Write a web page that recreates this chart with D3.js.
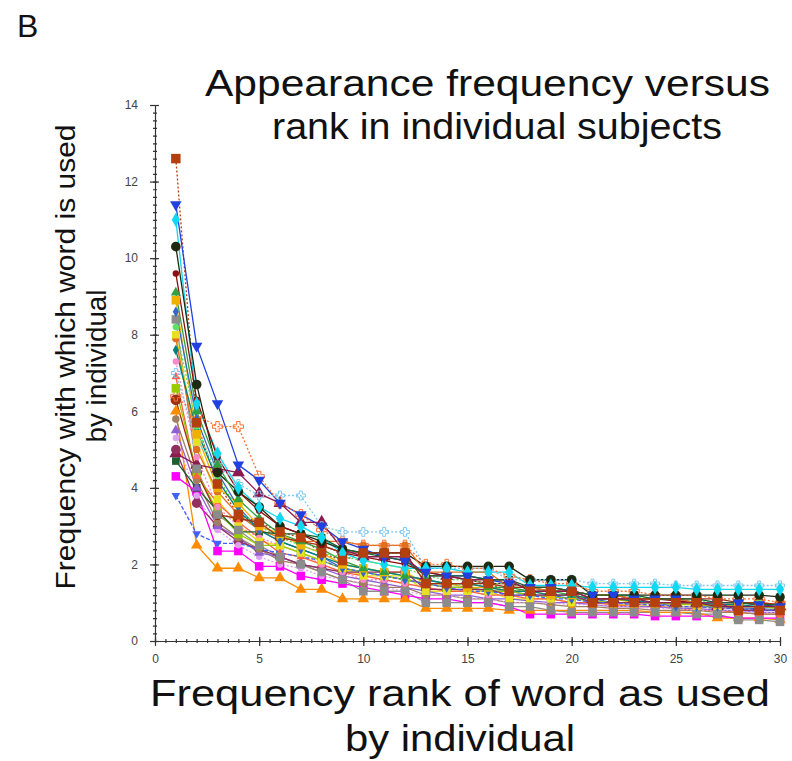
<!DOCTYPE html>
<html>
<head>
	<meta charset="utf-8">
	<title>Appearance frequency versus rank</title>
	<script src="https://d3js.org/d3.v7.min.js"></script>
	<style>
		body{ margin: 0; background: #fff; }
		text{ font-family: "Liberation Sans", Arial, sans-serif; fill: #111; }
		.tick text{ fill: #444; font-size: 12px; }
		.domain, .tick line{ stroke: #333; stroke-width: 1.2; }
		path.series{ fill: none; stroke-width: 1.3; }
	</style>
</head>
<body>
	<script>
		var width = 792, height = 761;

		// frequency ranks 1..30
		var ranks = d3.range(1, 31);
		var xTicks = [0, 5, 10, 15, 20, 25, 30];
		var yTicks = [0, 2, 4, 6, 8, 10, 12, 14];

		// one array per subject
		var s01 = [12.6, 5.7, 4.1, 3.3, 3.1, 2.85, 2.7, 2.3, 2.1, 2.3, 2.3, 2.3, 1.5, 1.5, 1.5, 1.5, 1.3, 1.3, 1.3, 1.3, 1.0, 1.0, 1.0, 1.0, 1.0, 1.0, 1.0, 0.8, 0.8, 0.8];
		var s02 = [11.4, 7.7, 6.2, 4.6, 4.2, 3.6, 3.3, 3.0, 2.6, 2.4, 2.2, 2.1, 1.8, 1.7, 1.7, 1.6, 1.5, 1.4, 1.4, 1.3, 1.2, 1.2, 1.1, 1.1, 1.1, 1.0, 1.0, 1.0, 0.95, 0.9];
		var s03 = [11.0, 6.2, 4.9, 4.0, 3.5, 3.2, 3.0, 2.7, 2.3, 2.1, 2.0, 1.9, 1.9, 1.9, 1.8, 1.8, 1.8, 1.45, 1.45, 1.45, 1.4, 1.4, 1.4, 1.4, 1.4, 1.35, 1.35, 1.35, 1.35, 1.35];
		var s04 = [10.3, 6.7, 4.4, 3.9, 3.5, 3.0, 2.8, 2.6, 2.4, 2.3, 2.3, 2.3, 1.95, 1.95, 1.95, 1.95, 1.95, 1.6, 1.6, 1.6, 1.2, 1.2, 1.2, 1.2, 1.2, 1.2, 1.2, 1.2, 1.2, 1.15];
		var s05 = [9.6, 6.3, 4.8, 3.9, 3.4, 3.0, 2.8, 2.5, 2.3, 2.2, 2.1, 2.0, 1.8, 1.7, 1.6, 1.5, 1.5, 1.4, 1.3, 1.3, 1.2, 1.2, 1.1, 1.1, 1.05, 1.0, 1.0, 1.0, 0.95, 0.95];
		var s06 = [9.1, 6.0, 4.6, 3.7, 3.2, 2.8, 2.6, 2.4, 2.1, 1.9, 1.8, 1.7, 1.6, 1.5, 1.5, 1.4, 1.4, 1.3, 1.3, 1.2, 1.1, 1.1, 1.05, 1.0, 1.0, 1.0, 0.95, 0.9, 0.9, 0.85];
		var s07 = [8.9, 5.4, 4.0, 3.6, 3.0, 2.8, 2.5, 2.3, 2.0, 1.9, 1.8, 1.8, 1.5, 1.5, 1.4, 1.4, 1.3, 1.3, 1.2, 1.2, 1.1, 1.1, 1.0, 1.0, 1.0, 0.95, 0.95, 0.9, 0.9, 0.9];
		var s08 = [8.6, 5.8, 4.4, 3.5, 2.9, 2.6, 2.4, 2.2, 1.9, 1.8, 1.7, 1.6, 1.5, 1.4, 1.4, 1.3, 1.3, 1.2, 1.2, 1.1, 1.1, 1.0, 1.0, 1.0, 0.9, 0.9, 0.9, 0.85, 0.85, 0.8];
		var s09 = [8.4, 4.5, 3.3, 2.9, 2.5, 2.2, 2.0, 1.8, 1.6, 1.3, 1.3, 1.3, 1.0, 1.0, 1.0, 1.0, 0.9, 0.9, 0.8, 0.75, 0.75, 0.75, 0.75, 0.75, 0.75, 0.7, 0.7, 0.55, 0.55, 0.5];
		var s10 = [8.2, 5.6, 4.3, 3.4, 3.0, 2.7, 2.5, 2.3, 2.2, 2.1, 2.0, 1.9, 1.7, 1.6, 1.6, 1.5, 1.5, 1.4, 1.3, 1.3, 1.2, 1.2, 1.15, 1.1, 1.1, 1.05, 1.0, 1.0, 1.0, 0.95];
		var s11 = [8.0, 5.2, 3.7, 3.0, 2.6, 2.5, 2.3, 2.1, 1.9, 1.7, 1.7, 1.7, 1.3, 1.3, 1.3, 1.3, 1.1, 1.1, 1.1, 1.0, 1.0, 0.95, 0.95, 0.9, 0.9, 0.9, 0.85, 0.85, 0.8, 0.8];
		var s12 = [7.9, 5.0, 3.9, 3.3, 2.9, 2.7, 2.6, 2.6, 2.6, 2.5, 2.5, 2.5, 1.8, 1.8, 1.8, 1.8, 1.4, 1.4, 1.3, 1.3, 1.2, 1.2, 1.1, 1.1, 1.1, 1.0, 1.0, 1.0, 1.0, 0.95];
		var s13 = [7.6, 5.5, 4.2, 3.4, 2.9, 2.6, 2.4, 2.2, 2.0, 1.9, 1.8, 1.7, 1.6, 1.5, 1.5, 1.4, 1.3, 1.3, 1.2, 1.2, 1.1, 1.1, 1.05, 1.0, 1.0, 1.0, 0.95, 0.95, 0.9, 0.9];
		var s14 = [7.3, 4.8, 3.5, 3.0, 2.7, 2.5, 2.3, 2.0, 1.8, 1.6, 1.6, 1.5, 1.4, 1.3, 1.3, 1.2, 1.2, 1.1, 1.1, 1.0, 1.0, 1.0, 0.95, 0.95, 0.9, 0.9, 0.85, 0.85, 0.8, 0.8];
		var s15 = [7.0, 5.2, 4.6, 4.1, 3.8, 3.8, 3.8, 3.0, 2.85, 2.85, 2.85, 2.85, 1.9, 1.9, 1.9, 1.9, 1.6, 1.6, 1.6, 1.6, 1.5, 1.5, 1.5, 1.5, 1.45, 1.45, 1.45, 1.45, 1.45, 1.45];
		var s16 = [6.9, 4.3, 3.6, 3.1, 2.7, 2.3, 2.2, 2.0, 1.8, 1.7, 1.6, 1.5, 1.4, 1.3, 1.3, 1.2, 1.2, 1.1, 1.1, 1.0, 1.0, 0.95, 0.9, 0.9, 0.85, 0.8, 0.8, 0.75, 0.7, 0.7];
		var s17 = [6.6, 4.4, 3.4, 2.8, 2.5, 2.5, 2.3, 2.1, 1.9, 1.8, 1.7, 1.6, 1.5, 1.4, 1.4, 1.3, 1.3, 1.2, 1.15, 1.1, 1.05, 1.0, 1.0, 1.0, 0.95, 0.95, 0.9, 0.9, 0.9, 0.85];
		var s18 = [6.4, 5.9, 5.6, 5.6, 4.3, 3.6, 3.3, 2.9, 2.6, 2.5, 2.5, 2.5, 2.0, 2.0, 1.9, 1.9, 1.7, 1.6, 1.5, 1.5, 1.3, 1.3, 1.3, 1.2, 1.2, 1.2, 1.1, 1.1, 1.1, 1.0];
		var s19 = [6.3, 4.4, 3.3, 3.2, 3.1, 2.7, 2.6, 2.5, 2.3, 2.3, 2.3, 2.3, 1.5, 1.5, 1.5, 1.5, 1.4, 1.4, 1.4, 1.3, 1.1, 1.1, 1.1, 1.1, 1.1, 1.1, 1.1, 1.0, 1.0, 0.95];
		var s20 = [6.0, 2.5, 1.9, 1.9, 1.65, 1.65, 1.35, 1.35, 1.1, 1.1, 1.1, 1.1, 0.85, 0.85, 0.85, 0.85, 0.8, 0.8, 0.8, 0.8, 0.8, 0.8, 0.8, 0.75, 0.75, 0.75, 0.6, 0.6, 0.6, 0.55];
		var s21 = [5.8, 4.2, 3.1, 2.7, 2.4, 2.1, 2.0, 1.8, 1.6, 1.5, 1.4, 1.4, 1.2, 1.2, 1.1, 1.1, 1.0, 1.0, 0.95, 0.9, 0.9, 0.85, 0.85, 0.8, 0.8, 0.8, 0.75, 0.75, 0.7, 0.7];
		var s22 = [5.5, 4.0, 3.0, 2.7, 2.3, 2.2, 2.0, 1.9, 1.7, 1.6, 1.5, 1.4, 1.3, 1.2, 1.2, 1.1, 1.1, 1.05, 1.0, 1.0, 0.95, 0.9, 0.9, 0.9, 0.85, 0.85, 0.8, 0.8, 0.75, 0.75];
		var s23 = [5.3, 3.8, 2.9, 2.5, 2.2, 2.0, 1.9, 1.7, 1.6, 1.5, 1.4, 1.3, 1.2, 1.2, 1.1, 1.1, 1.0, 1.0, 1.0, 0.95, 0.95, 0.9, 0.9, 0.85, 0.85, 0.8, 0.8, 0.8, 0.75, 0.75];
		var s24 = [5.0, 3.6, 3.0, 2.6, 2.4, 2.2, 2.0, 1.9, 1.8, 1.8, 1.8, 1.8, 1.35, 1.35, 1.35, 1.35, 1.2, 1.2, 1.2, 1.2, 1.0, 1.0, 1.0, 1.0, 1.0, 1.0, 1.0, 0.8, 0.8, 0.8];
		var s25 = [4.9, 4.6, 4.5, 4.4, 3.85, 3.6, 3.1, 3.1, 2.4, 2.2, 2.2, 2.2, 1.7, 1.7, 1.6, 1.6, 1.6, 1.3, 1.3, 1.3, 1.1, 1.1, 1.1, 1.0, 1.0, 1.0, 0.9, 0.9, 0.9, 0.9];
		var s26 = [4.7, 4.0, 3.4, 2.85, 2.85, 2.8, 2.8, 2.7, 2.4, 2.3, 2.2, 2.1, 1.7, 1.7, 1.7, 1.6, 1.6, 1.4, 1.4, 1.3, 1.2, 1.2, 1.2, 1.1, 1.1, 1.1, 1.0, 1.0, 0.95, 0.95];
		var s27 = [4.3, 3.9, 2.35, 2.35, 1.95, 1.95, 1.7, 1.6, 1.5, 1.4, 1.3, 1.2, 1.1, 1.1, 1.0, 1.0, 0.9, 0.7, 0.7, 0.7, 0.7, 0.7, 0.7, 0.65, 0.65, 0.65, 0.65, 0.6, 0.6, 0.6];
		var s28 = [3.8, 2.8, 2.55, 2.55, 2.4, 2.3, 2.2, 2.1, 1.9, 1.8, 1.7, 1.6, 1.5, 1.4, 1.3, 1.3, 1.2, 1.2, 1.1, 1.1, 1.0, 1.0, 0.95, 0.95, 0.9, 0.9, 0.85, 0.85, 0.8, 0.8];

		var subjects = [s01, s02, s03, s04, s05, s06, s07, s08, s09, s10, s11, s12, s13, s14,
						s15, s16, s17, s18, s19, s20, s21, s22, s23, s24, s25, s26, s27, s28];

		// look of each subject's line: colour, marker, marker size, dash
		var looks = [
			{c: "#b5400f", m: "square",   r: 10, dash: "2,2"},
			{c: "#2040e0", m: "triDown",  r: 8, dash: null},
			{c: "#10d8f0", m: "diamond",  r: 8, dash: null},
			{c: "#1e2a10", m: "circle",   r: 9, dash: null},
			{c: "#8a1010", m: "circle",   r: 6, dash: null},
			{c: "#30a040", m: "triangle", r: 7, dash: null},
			{c: "#f0b000", m: "square",   r: 9, dash: null},
			{c: "#3366cc", m: "diamond",  r: 6, dash: null},
			{c: "#8c8c8c", m: "square",   r: 9, dash: null},
			{c: "#60e060", m: "circle",   r: 6, dash: "2,2"},
			{c: "#e8e020", m: "square",   r: 8, dash: null},
			{c: "#e07020", m: "circle",   r: 7, dash: null},
			{c: "#008080", m: "diamond",  r: 6, dash: null},
			{c: "#ff88c8", m: "circle",   r: 6, dash: "2,2"},
			{c: "#80c8f0", m: "cross",    r: 7, dash: "2,2"},
			{c: "#ff6040", m: "triangle", r: 6, dash: null},
			{c: "#99cc00", m: "square",   r: 9, dash: null},
			{c: "#ff7030", m: "cross",    r: 8, dash: "2,2"},
			{c: "#a03010", m: "circle",   r: 10, dash: null},
			{c: "#ff8c00", m: "triangle", r: 8, dash: null},
			{c: "#a08060", m: "circle",   r: 7, dash: null},
			{c: "#9060d0", m: "triangle", r: 7, dash: null},
			{c: "#e0a0f0", m: "circle",   r: 6, dash: "2,2"},
			{c: "#903060", m: "circle",   r: 9, dash: null},
			{c: "#8b1a50", m: "triangle", r: 9, dash: null},
			{c: "#1a6030", m: "square",   r: 8, dash: null},
			{c: "#ff00ff", m: "square",   r: 9, dash: null},
			{c: "#4060ff", m: "triDown",  r: 6, dash: "4,2"}
		];

		var svg = d3.select("body").append("svg")
					.attr("width", width).attr("height", height);

		var x = d3.scaleLinear().domain([0, 30]).range([155, 780]);
		var y = d3.scaleLinear().domain([0, 14]).range([641, 105]);

		// minor ticks
		svg.append("g").attr("transform", "translate(155,0)")
			.call(d3.axisLeft(y).tickValues(d3.range(0, 14.01, 0.2)).tickSize(2).tickFormat(""))
			.select(".domain").remove();
		svg.append("g").attr("transform", "translate(155,0)")
			.call(d3.axisRight(y).tickValues(d3.range(0, 14.01, 0.2)).tickSize(2).tickFormat(""))
			.select(".domain").remove();
		svg.append("g").attr("transform", "translate(0,641)")
			.call(d3.axisBottom(x).tickValues(d3.range(0, 30.01, 0.5)).tickSize(2).tickFormat(""))
			.select(".domain").remove();
		svg.append("g").attr("transform", "translate(0,641)")
			.call(d3.axisTop(x).tickValues(d3.range(0, 30.01, 0.5)).tickSize(2).tickFormat(""))
			.select(".domain").remove();

		// major ticks + labels
		svg.append("g").attr("transform", "translate(155,0)")
			.call(d3.axisLeft(y).tickValues(yTicks).tickSize(5).tickSizeOuter(0).tickPadding(12).tickFormat(d3.format("d")));
		svg.append("g").attr("transform", "translate(155,0)")
			.call(d3.axisRight(y).tickValues(yTicks).tickSize(4).tickFormat(""))
			.select(".domain").remove();
		svg.append("g").attr("transform", "translate(0,641)")
			.call(d3.axisBottom(x).tickValues(xTicks).tickSize(5).tickSizeOuter(0).tickPadding(8).tickFormat(d3.format("d")));
		svg.append("g").attr("transform", "translate(0,641)")
			.call(d3.axisTop(x).tickValues(xTicks).tickSize(4).tickFormat(""))
			.select(".domain").remove();

		var symbolOf = {
			square: d3.symbolSquare, circle: d3.symbolCircle, triangle: d3.symbolTriangle,
			triDown: d3.symbolTriangle, diamond: d3.symbolDiamond, cross: d3.symbolCross
		};

		var line = d3.line()
					.x(function(d, i){ return x(ranks[i]); })
					.y(function(d){ return y(d); });

		var lines = svg.append("g").selectAll("path")
					.data(subjects);

		lines.enter().append("path")
			.attr("class", "series")
			.attr("d", line)
			.attr("stroke", function(d, i){ return looks[i].c; })
			.attr("stroke-dasharray", function(d, i){ return looks[i].dash; });

		// markers, last subject drawn first so the big ones at rank 1 sit on top
		for (var k = subjects.length - 1; k >= 0; k--){
			var lk = looks[k];
			var sym = d3.symbol().type(symbolOf[lk.m]).size(lk.r * lk.r * 0.9);
			svg.append("g").selectAll("path")
				.data(subjects[k])
				.enter().append("path")
				.attr("d", sym)
				.attr("transform", function(d, i){
					var rot = lk.m == "triDown" ? " rotate(180)" : "";
					return "translate(" + x(ranks[i]) + "," + y(d) + ")" + rot;
				})
				.attr("fill", lk.m == "cross" ? "none" : lk.c)
				.attr("stroke", lk.c)
				.attr("stroke-width", lk.m == "cross" ? 1 : 0);
		}

		// texts
		svg.append("text").text("B")
			.attr("x", 17).attr("y", 37).attr("font-size", 32);

		svg.append("text").text("Appearance frequency versus")
			.attr("x", 205).attr("y", 96).attr("font-size", 37)
			.attr("textLength", 565).attr("lengthAdjust", "spacingAndGlyphs");
		svg.append("text").text("rank in individual subjects")
			.attr("x", 272).attr("y", 139).attr("font-size", 37)
			.attr("textLength", 450).attr("lengthAdjust", "spacingAndGlyphs");

		svg.append("text").text("Frequency rank of word as used")
			.attr("x", 150).attr("y", 706).attr("font-size", 37)
			.attr("textLength", 620).attr("lengthAdjust", "spacingAndGlyphs");
		svg.append("text").text("by individual")
			.attr("x", 345).attr("y", 751).attr("font-size", 37)
			.attr("textLength", 230).attr("lengthAdjust", "spacingAndGlyphs");

		svg.append("text").text("Frequency with which word is used")
			.attr("transform", "translate(75,357) rotate(-90)")
			.attr("text-anchor", "middle").attr("font-size", 28)
			.attr("textLength", 465).attr("lengthAdjust", "spacingAndGlyphs");
		svg.append("text").text("by individual")
			.attr("transform", "translate(106,366) rotate(-90)")
			.attr("text-anchor", "middle").attr("font-size", 28)
			.attr("textLength", 153).attr("lengthAdjust", "spacingAndGlyphs");
	</script>
</body>
</html>
